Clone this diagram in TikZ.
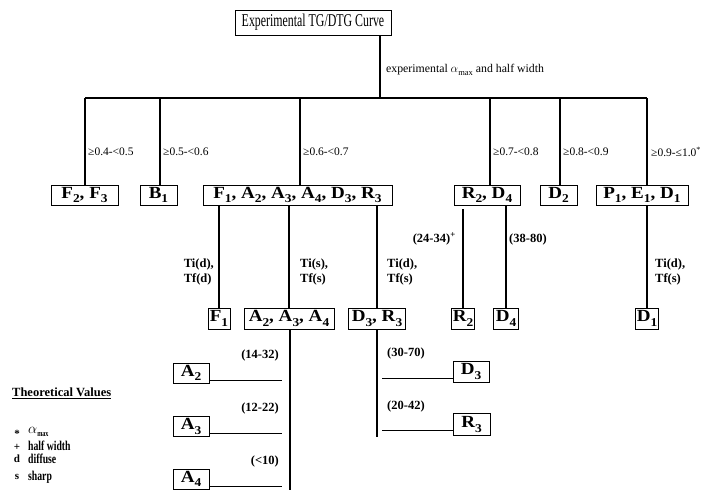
\documentclass[tikz,border=0pt]{standalone}
\usepackage{fontspec}
\setmainfont{Liberation Serif}
\newfontfamily\condfont[FakeStretch=0.72]{Liberation Serif}
\newfontfamily\titlefont[FakeStretch=0.66]{Liberation Serif}
\newfontfamily\wideboxfont[FakeStretch=1.12]{Liberation Serif}
\newcommand\mysb[1]{\raisebox{-0.28em}{\fontsize{12}{12}\selectfont #1}}
\newcommand\amax{$\alpha$\raisebox{-0.25em}{\fontsize{8.5}{8.5}\selectfont max}}
\tikzset{
  lbox/.style={draw, line width=0.9pt, inner sep=0pt, minimum height=20pt,
    font=\wideboxfont\bfseries\fontsize{17}{17}\selectfont},
  ln/.style={line width=1.5pt},
  hl/.style={line width=1pt},
  lab/.style={font=\fontsize{11.5}{12}\selectfont, inner sep=0pt},
  tlab/.style={font=\bfseries\fontsize{12.5}{15}\selectfont, inner sep=0pt, align=left},
  rlab/.style={font=\bfseries\fontsize{12.5}{14}\selectfont, inner sep=0pt},
  leg/.style={font=\condfont\bfseries\fontsize{13.5}{13.5}\selectfont, inner sep=0pt, anchor=west},
  legsym/.style={font=\bfseries\fontsize{11}{11}\selectfont, inner sep=0pt},
}
\begin{document}
\begin{tikzpicture}[x=1pt,y=-1pt]
\useasboundingbox (0,0) rectangle (716,490);

% title
\node[draw, line width=0.9pt, inner sep=0pt, minimum width=156pt, minimum height=25pt,
  font=\titlefont\fontsize{18}{18}\selectfont] (title) at (313,22.5) {Experimental TG/DTG Curve};
\coordinate (jt) at (380,98);
\draw[ln] (title.south -| jt) -- (jt);
\node[anchor=west, inner sep=0pt, font=\fontsize{11.8}{13}\selectfont] (explab) at (386,70)
  {experimental \amax{} and half width};

% bus
\coordinate (b1) at (85,98);
\coordinate (b2) at (160,98);
\coordinate (b3) at (300,98);
\coordinate (b4) at (490,98);
\coordinate (b5) at (560,98);
\coordinate (b6) at (647,98);
\draw[ln] (b1) -- (b6);

% row 1 boxes
\node[lbox, minimum width=67pt]  (r1a) at (84.5,195) {F\mysb{2}, F\mysb{3}};
\node[lbox, minimum width=37pt]  (r1b) at (158.5,195) {B\mysb{1}};
\node[lbox, minimum width=189pt] (r1c) at (297.5,195) {F\mysb{1}, A\mysb{2}, A\mysb{3}, A\mysb{4}, D\mysb{3}, R\mysb{3}};
\node[lbox, minimum width=66pt]  (r1d) at (487,195) {R\mysb{2}, D\mysb{4}};
\node[lbox, minimum width=37pt]  (r1e) at (558.5,195) {D\mysb{2}};
\node[lbox, minimum width=92pt]  (r1f) at (642,195) {P\mysb{1}, E\mysb{1}, D\mysb{1}};

\draw[ln] (b1) -- (r1a.north -| b1);
\draw[ln] (b2) -- (r1b.north -| b2);
\draw[ln] (b3) -- (r1c.north -| b3);
\draw[ln] (b4) -- (r1d.north -| b4);
\draw[ln] (b5) -- (r1e.north -| b5);
\draw[ln] (b6) -- (r1f.north -| b6);

% range labels
\node[lab, anchor=west] (l1) at (88,152) {≥0.4-<0.5};
\node[lab, anchor=west] (l2) at (163,152) {≥0.5-<0.6};
\node[lab, anchor=west] (l3) at (303,152) {≥0.6-<0.7};
\node[lab, anchor=west] (l4) at (493,152) {≥0.7-<0.8};
\node[lab, anchor=west] (l5) at (563,152) {≥0.8-<0.9};
\node[lab, anchor=west] (l6) at (651,152) {≥0.9-≤1.0\textsuperscript{*}};

% row 2 boxes
\node[lbox, minimum width=22pt, minimum height=21pt] (r2a) at (219,318.5) {F\mysb{1}};
\node[lbox, minimum width=90pt, minimum height=21pt] (r2b) at (289,318.5) {A\mysb{2}, A\mysb{3}, A\mysb{4}};
\node[lbox, minimum width=57pt, minimum height=21pt] (r2c) at (377,318.5) {D\mysb{3}, R\mysb{3}};
\node[lbox, minimum width=23pt, minimum height=21pt] (r2d) at (463,318.5) {R\mysb{2}};
\node[lbox, minimum width=25pt, minimum height=21pt] (r2e) at (506,318.5) {D\mysb{4}};
\node[lbox, minimum width=23pt, minimum height=21pt] (r2f) at (647,318.5) {D\mysb{1}};

\draw[ln] (r2a.north |- r1c.south) -- (r2a.north);
\draw[ln] (r2b.north |- r1c.south) -- (r2b.north);
\draw[ln] (r2c.north |- r1c.south) -- (r2c.north);
\draw[ln] ([yshift=-4pt]r2d.north |- r1d.south) -- (r2d.north);
\draw[ln] (r2e.north |- r1d.south) -- (r2e.north);
\draw[ln] (r2f.north |- r1f.south) -- (r2f.north);

% branch labels
\node[tlab, anchor=east] (t1) at (214,272) {Ti(d),\\Tf(d)};
\node[tlab, anchor=west] (t2) at (300,272) {Ti(s),\\Tf(s)};
\node[tlab, anchor=west] (t3) at (387,272) {Ti(d),\\Tf(s)};
\node[tlab, anchor=west] (t4) at (655,272) {Ti(d),\\Tf(s)};
\node[rlab, anchor=east] (p1) at (456,239) {(24-34)\textsuperscript{+}};
\node[rlab, anchor=west] (p2) at (509,239) {(38-80)};

% A2 A3 A4 branch
\coordinate (abot) at (290,490);
\draw[ln] (r2b.south -| abot) -- (abot);
\node[lbox, minimum width=36pt, minimum height=20pt] (a2) at (191,373) {A\mysb{2}};
\node[lbox, minimum width=36pt, minimum height=20pt] (a3) at (191,426.5) {A\mysb{3}};
\node[lbox, minimum width=36pt, minimum height=20pt] (a4) at (191,479) {A\mysb{4}};
\coordinate (a2e) at (282,380);
\coordinate (a3e) at (282,433);
\coordinate (a4e) at (282,486);
\draw[hl] (a2e -| a2.east) -- (a2e);
\draw[hl] (a3e -| a3.east) -- (a3e);
\draw[hl] (a4e -| a4.east) -- (a4e);
\node[rlab, anchor=east] (q1) at (279,355) {(14-32)};
\node[rlab, anchor=east] (q2) at (279,408) {(12-22)};
\node[rlab, anchor=east] (q3) at (279,461) {(<10)};

% D3 R3 branch
\coordinate (dbot) at (377,437);
\draw[ln] (r2c.south -| dbot) -- (dbot);
\node[lbox, minimum width=36pt, minimum height=21pt] (d3) at (471,371.5) {D\mysb{3}};
\node[lbox, minimum width=37pt, minimum height=22pt] (r3) at (471.5,424.5) {R\mysb{3}};
\coordinate (d3s) at (382,378);
\coordinate (r3s) at (382,430);
\draw[hl] (d3s) -- (d3s -| d3.west);
\draw[hl] (r3s) -- (r3s -| r3.west);
\node[rlab, anchor=west] (q4) at (387,353) {(30-70)};
\node[rlab, anchor=west] (q5) at (387,406) {(20-42)};

% legend
\node[anchor=west, inner sep=0pt, font=\bfseries\fontsize{12.5}{13}\selectfont] (tv) at (12,393) {\underline{Theoretical Values}};
\node[legsym] (s1) at (17,434) {*};
\node[leg] (v1) at (28,432) {\amax};
\node[legsym] (s2) at (17,447) {+};
\node[leg] (v2) at (28,446) {half width};
\node[legsym] (s3) at (17,459) {d};
\node[leg] (v3) at (28,459) {diffuse};
\node[legsym] (s4) at (17,477) {s};
\node[leg] (v4) at (28,477) {sharp};
\end{tikzpicture}
\end{document}
